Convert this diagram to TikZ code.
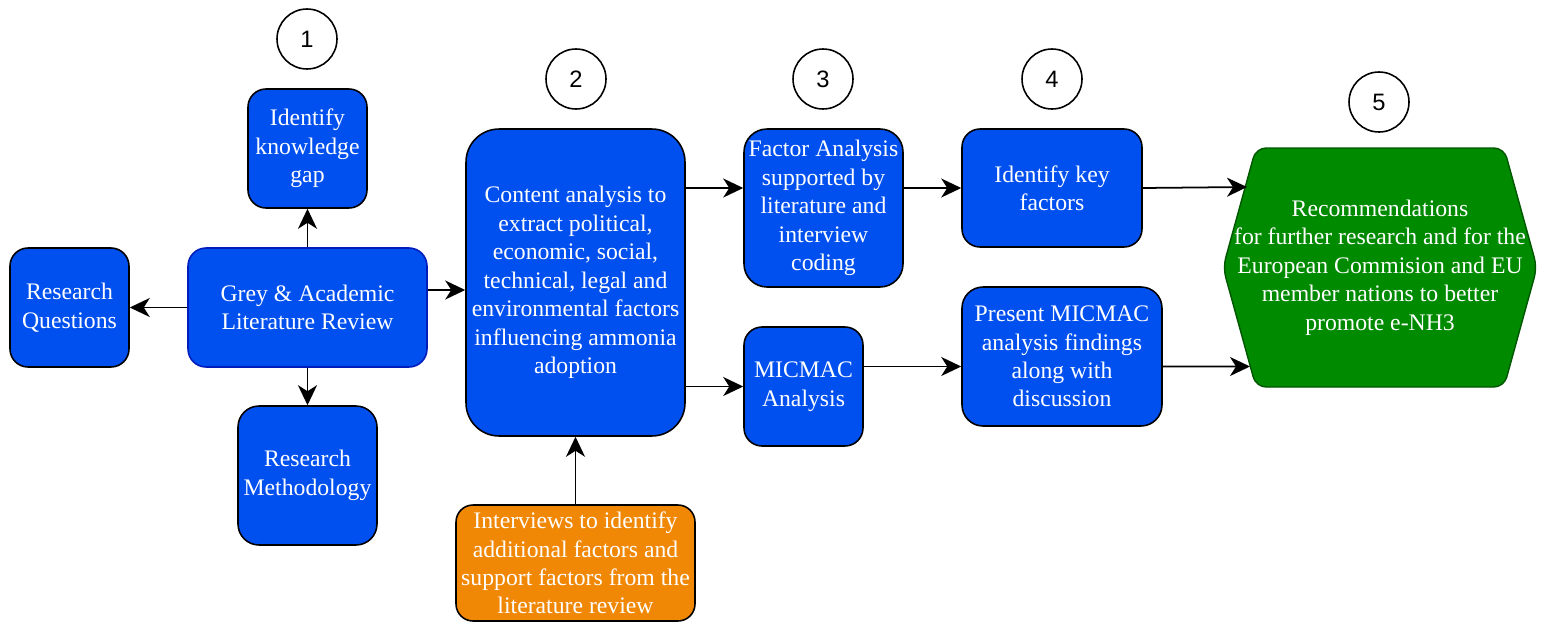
\documentclass[tikz,border=0pt]{standalone}
\usepackage{fontspec}
\setmainfont{Liberation Serif}
\newfontfamily\numfont{Liberation Sans}
\usetikzlibrary{arrows.meta}
\usepackage{xcolor}
\definecolor{boxblue}{HTML}{0050EF}
\definecolor{edgeblue}{HTML}{001DBC}
\definecolor{boxorange}{HTML}{F08705}
\definecolor{boxgreen}{HTML}{008A00}
\definecolor{edgegreen}{HTML}{005700}

\begin{document}
\begin{tikzpicture}[x=0.02cm,y=-0.02cm,font=\fontsize{13.5}{16.2}\selectfont,>={Stealth[length=0.4cm,width=0.38cm,inset=0.12cm]},
  blk/.style={draw, line width=0.9pt, fill=boxblue, text=white, align=center, inner sep=0pt, rounded corners=0.36cm},
  num/.style={draw, circle, line width=0.9pt, minimum size=1.2cm, inner sep=0pt, font=\numfont\fontsize{13.5}{16}\selectfont},
  arr/.style={->, line width=1pt}]
\useasboundingbox (0,0) rectangle (1541,622);

% step numbers
\node[num] (n1) at (307,39) {1};
\node[num] (n2) at (576,79) {2};
\node[num] (n3) at (823,79) {3};
\node[num] (n4) at (1052,79) {4};
\node[num] (n5) at (1379,102) {5};

% step 1
\node[blk, minimum width=2.38cm, minimum height=2.38cm] (gap) at (307.5,148.5) {Identify\\knowledge\\gap};
\node[blk, minimum width=2.38cm, minimum height=2.38cm] (rq) at (69.5,307.5) {Research\\Questions};
\node[blk, draw=edgeblue, minimum width=4.78cm, minimum height=2.38cm] (lit) at (307.5,307.5) {Grey \& Academic\\Literature Review};
\node[blk, minimum width=2.78cm, minimum height=2.78cm, rounded corners=0.42cm] (meth) at (307.5,475.5) {Research\\Methodology};

% step 2
\node[blk, minimum width=4.38cm, minimum height=6.14cm, rounded corners=0.66cm] (content) at (575.5,282.5) {Content analysis to\\extract political,\\economic, social,\\technical, legal and\\environmental factors\\influencing ammonia\\adoption};
\node[blk, fill=boxorange, minimum width=4.78cm, minimum height=2.32cm, rounded corners=0.34cm] (intv) at (575.5,563) {Interviews to identify\\additional factors and\\support factors from the\\literature review};

% step 3
\node[blk, minimum width=3.18cm, minimum height=3.16cm, rounded corners=0.46cm] (fa) at (823.5,208) {Factor Analysis\\supported by\\literature and\\interview\\coding};
\node[blk, minimum width=2.38cm, minimum height=2.38cm] (mic) at (803.5,386.5) {MICMAC\\Analysis};

% step 4
\node[blk, minimum width=3.6cm, minimum height=2.36cm] (key) at (1052,188) {Identify key\\factors};
\node[blk, minimum width=4.0cm, minimum height=2.78cm, rounded corners=0.42cm] (pres) at (1062,356.5) {Present MICMAC\\analysis findings\\along with\\discussion};

% step 5
\filldraw[fill=boxgreen, draw=edgegreen, line width=0.8pt, rounded corners=0.2cm] (1223,267.5) -- (1256,148) -- (1504,148) -- (1537,267.5) -- (1504,387) -- (1256,387) -- cycle;
\node[text=white, align=center, inner sep=0pt, minimum width=6.28cm, minimum height=4.78cm] (rec) at (1380,267.5) {Recommendations\\for further research and for the\\European Commision and EU\\member nations to better\\promote e-NH3};
\coordinate (recin1) at (1247,187);
\coordinate (recin2) at (1250,366.5);

% connectors
\coordinate (litout) at ([yshift=0.35cm]lit.east);
\coordinate (fain) at ([yshift=0.4cm]fa.west);
\coordinate (presin) at ([yshift=-0.2cm]pres.west);
\draw[arr] (lit.north) -- (gap.south);
\draw[arr] (lit.west) -- (rq.east);
\draw[arr] (lit.south) -- (meth.north);
\draw[arr] (litout) -- (litout -| content.west);
\draw[arr] (intv.north) -- (content.south);
\draw[arr] (content.east |- fain) -- (fain);
\draw[arr] (content.east |- mic.west) -- (mic.west);
\draw[arr] (fa.east |- key.west) -- (key.west);
\draw[arr] (mic.east |- presin) -- (presin);
\draw[arr] (key.east) -- (recin1);
\draw[arr] (presin -| pres.east) -- (recin2);
\end{tikzpicture}
\end{document}
